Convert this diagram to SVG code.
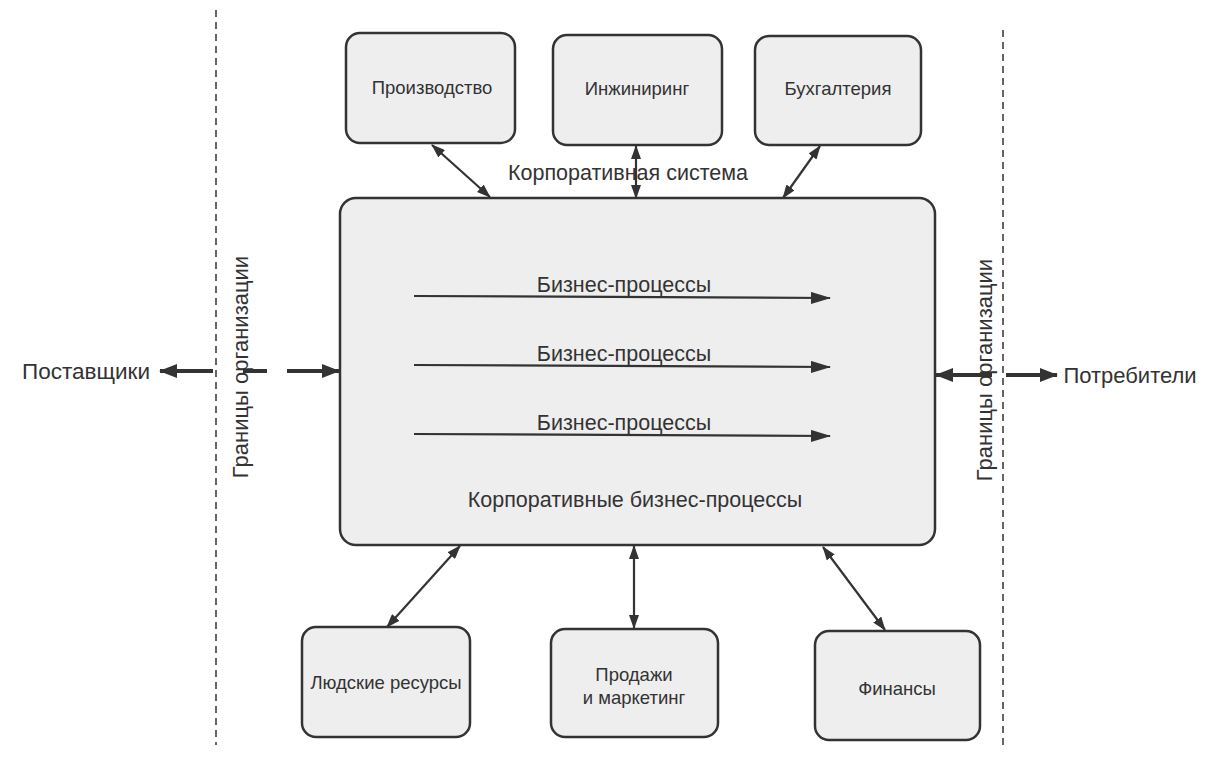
<svg xmlns="http://www.w3.org/2000/svg" width="1219" height="757" viewBox="0 0 1219 757">
<defs>
<marker id="ah" markerWidth="14" markerHeight="10" refX="13" refY="5" orient="auto-start-reverse" markerUnits="userSpaceOnUse">
<path d="M0,0 L14,5 L0,10 Z" fill="#333"/>
</marker>
<marker id="ahBig" markerWidth="18" markerHeight="14" refX="17" refY="7" orient="auto-start-reverse" markerUnits="userSpaceOnUse">
<path d="M0,0 L18,7 L0,14 Z" fill="#333"/>
</marker>
<marker id="ahLong" markerWidth="20" markerHeight="12" refX="19" refY="6" orient="auto" markerUnits="userSpaceOnUse">
<path d="M0,0 L20,6 L0,12 Z" fill="#333"/>
</marker>
</defs>
<style>
.box{fill:#eeeeef;stroke:#333;stroke-width:2.5}
.lbl{font-family:"Liberation Sans",Arial,sans-serif;font-size:18.5px;fill:#333;text-anchor:middle}
.big{font-family:"Liberation Sans",Arial,sans-serif;font-size:21.5px;fill:#333;text-anchor:middle}
.con{stroke:#333;stroke-width:2.2;fill:none}
.thick{stroke:#333;stroke-width:4;fill:none}
.dash{stroke:#333;stroke-width:1.5;stroke-dasharray:7,5;fill:none}
</style>
<rect width="1219" height="757" fill="#fff"/>
<g id="boundaries">
<line class="dash" x1="216" y1="10" x2="216" y2="745"/>
<line class="dash" x1="1003" y1="30" x2="1003" y2="745"/>
<text class="big" transform="translate(248,367) rotate(-90)" style="font-size:22px">Границы организации</text>
<text class="big" transform="translate(992,370) rotate(-90)" style="font-size:22px">Границы организации</text>
</g>
<g id="main">
<rect class="box" x="340" y="198" width="595" height="347" rx="16"/>
<text class="big" x="624" y="292">Бизнес-процессы</text>
<text class="big" x="624" y="361">Бизнес-процессы</text>
<text class="big" x="624" y="430">Бизнес-процессы</text>
<text class="big" x="635" y="507">Корпоративные бизнес-процессы</text>
</g>
<g id="proizvodstvo"><rect class="box" x="346" y="33" width="169" height="110" rx="14"/><text class="lbl" x="432" y="94">Производство</text></g>
<g id="inzhiniring"><rect class="box" x="553" y="35" width="169" height="110" rx="14"/><text class="lbl" x="637" y="95">Инжиниринг</text></g>
<g id="buhgalteriya"><rect class="box" x="755" y="36" width="166" height="109" rx="14"/><text class="lbl" x="838" y="95">Бухгалтерия</text></g>
<g id="lyudskie"><rect class="box" x="302" y="627" width="168" height="110" rx="14"/><text class="lbl" x="386" y="689">Людские ресурсы</text></g>
<g id="prodazhi"><rect class="box" x="551" y="629" width="167" height="108" rx="14"/><text class="lbl" x="634" y="681">Продажи</text><text class="lbl" x="634" y="704">и маркетинг</text></g>
<g id="finansy"><rect class="box" x="815" y="631" width="165" height="109" rx="14"/><text class="lbl" x="897" y="695">Финансы</text></g>
<g id="postavshiki"><text class="big" x="86" y="379" style="font-size:22.5px">Поставщики</text></g>
<g id="potrebiteli"><text class="big" x="1130" y="383" style="font-size:22px">Потребители</text></g>
<text class="big" x="628" y="180">Корпоративная система</text>
<g id="connectors">
<line class="con" x1="432" y1="145" x2="490" y2="197" marker-start="url(#ah)" marker-end="url(#ah)"/>
<line class="con" x1="636" y1="146" x2="636" y2="198" marker-start="url(#ah)" marker-end="url(#ah)"/>
<line class="con" x1="820" y1="146" x2="783" y2="198" marker-start="url(#ah)" marker-end="url(#ah)"/>
<line class="con" x1="460" y1="546" x2="387" y2="627" marker-start="url(#ah)" marker-end="url(#ah)"/>
<line class="con" x1="634" y1="546" x2="634" y2="628" marker-start="url(#ah)" marker-end="url(#ah)"/>
<line class="con" x1="823" y1="547" x2="885" y2="630" marker-start="url(#ah)" marker-end="url(#ah)"/>
<line class="con" x1="414" y1="296" x2="830" y2="298" marker-end="url(#ahLong)"/>
<line class="con" x1="414" y1="365" x2="830" y2="367" marker-end="url(#ahLong)"/>
<line class="con" x1="414" y1="434" x2="830" y2="436" marker-end="url(#ahLong)"/>
<line class="thick" x1="213" y1="371" x2="160" y2="371" marker-end="url(#ahBig)"/>
<line class="thick" x1="243" y1="371" x2="267" y2="371"/>
<line class="thick" x1="287" y1="371" x2="339" y2="371" marker-end="url(#ahBig)"/>
<line class="thick" x1="992" y1="375" x2="936" y2="375" marker-end="url(#ahBig)"/>
<line class="thick" x1="1006" y1="375" x2="1057" y2="375" marker-end="url(#ahBig)"/>
</g>
</svg>
